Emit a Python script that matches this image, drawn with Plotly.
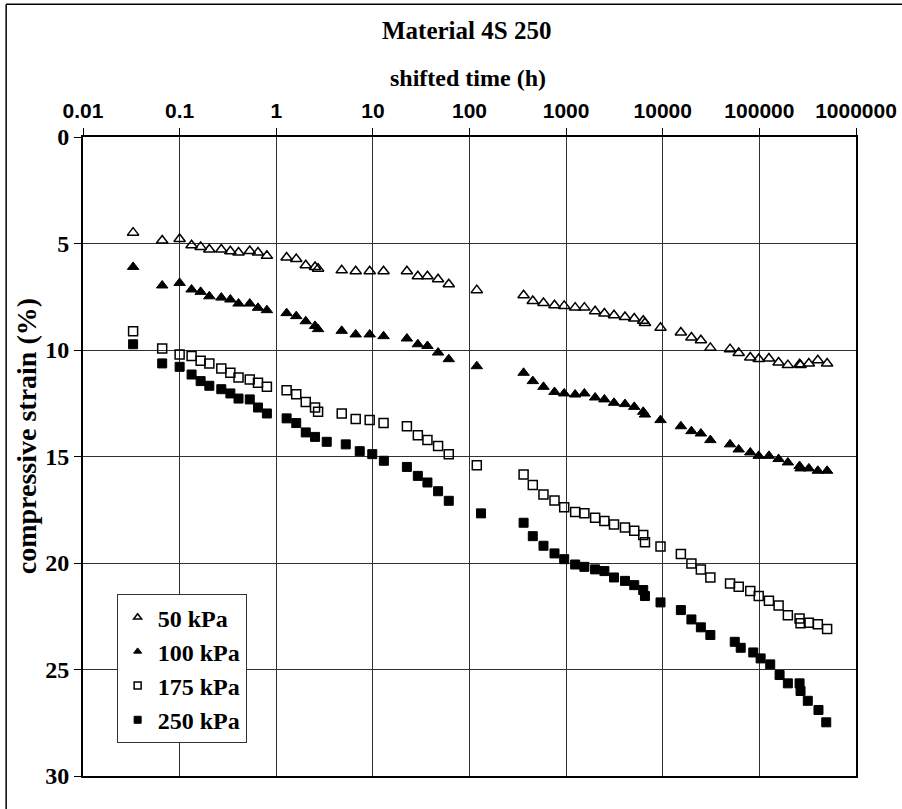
import plotly.graph_objects as go

# shifted time (h) for the 50, 100 and 175 kPa series
time_a = [0.033, 0.066, 0.1, 0.133, 0.165, 0.203, 0.27, 0.335, 0.407, 0.532,
          0.647, 0.80, 1.28, 1.61, 2.02, 2.52, 2.71, 4.76, 6.64, 9.27,
          12.9, 22.5, 29.2, 36.7, 47.3, 61.0, 119, 363, 452, 583,
          758, 955, 1240, 1545, 1995, 2490, 3130, 4065, 5070, 6280,
          6545, 9480, 15400, 19800, 24800, 31100, 49700, 61100, 80500, 98400,
          125600, 158100, 197200, 260600, 266700, 325100, 402700, 502300]
# shifted time (h) for the 250 kPa series
time_b = [0.033, 0.066, 0.1, 0.133, 0.165, 0.203, 0.27, 0.335, 0.407, 0.532,
          0.647, 0.80, 1.28, 1.61, 2.02, 2.52, 3.33, 5.24, 7.31, 9.86,
          13.0, 22.5, 29.2, 36.7, 47.3, 61.0, 131.5, 363, 452, 583,
          758, 955, 1240, 1545, 1995, 2490, 3130, 4065, 5070, 6280,
          6545, 9480, 15400, 19800, 24800, 31100, 55600, 64100, 86500, 103000,
          129500, 161900, 197200, 260600, 266700, 317000, 409000, 492000]

strain_50 = [4.49, 4.86, 4.79, 5.08, 5.16, 5.28, 5.28, 5.36, 5.42, 5.35,
             5.42, 5.58, 5.66, 5.73, 6.02, 6.10, 6.18, 6.26, 6.30, 6.30,
             6.30, 6.30, 6.54, 6.54, 6.68, 6.91, 7.19, 7.43, 7.70, 7.79,
             7.90, 7.93, 8.01, 8.01, 8.18, 8.29, 8.37, 8.45, 8.52, 8.63,
             8.73, 8.96, 9.18, 9.41, 9.54, 9.90, 9.96, 10.14, 10.35, 10.42,
             10.40, 10.59, 10.71, 10.67, 10.71, 10.63, 10.48, 10.63]
strain_100 = [6.10, 6.97, 6.85, 7.16, 7.27, 7.48, 7.54, 7.63, 7.82, 7.82,
              8.02, 8.13, 8.27, 8.41, 8.65, 8.87, 9.02, 9.10, 9.27, 9.27,
              9.35, 9.46, 9.73, 9.81, 10.12, 10.43, 10.76, 11.07, 11.46, 11.73,
              11.97, 12.04, 12.09, 12.04, 12.23, 12.32, 12.48, 12.54, 12.67, 12.90,
              13.03, 13.29, 13.58, 13.81, 13.92, 14.23, 14.43, 14.67, 14.81, 14.97,
              14.97, 15.12, 15.28, 15.45, 15.56, 15.56, 15.67, 15.67]
strain_175 = [9.12, 9.93, 10.21, 10.28, 10.51, 10.63, 10.87, 11.07, 11.29, 11.38,
              11.54, 11.73, 11.89, 12.08, 12.44, 12.70, 12.90, 12.98, 13.24, 13.29,
              13.43, 13.58, 14.00, 14.23, 14.51, 14.89, 15.41, 15.84, 16.34, 16.78,
              17.07, 17.38, 17.60, 17.67, 17.88, 18.03, 18.19, 18.33, 18.49, 18.69,
              19.02, 19.22, 19.58, 20.02, 20.30, 20.68, 20.96, 21.12, 21.32, 21.55,
              21.77, 21.99, 22.45, 22.60, 22.83, 22.81, 22.88, 23.10]
strain_250 = [9.73, 10.63, 10.79, 11.15, 11.46, 11.68, 11.84, 12.04, 12.28, 12.32,
              12.70, 12.98, 13.21, 13.43, 13.87, 14.08, 14.31, 14.43, 14.75, 14.89,
              15.20, 15.49, 15.91, 16.22, 16.63, 17.08, 17.67, 18.11, 18.74, 19.19,
              19.55, 19.82, 20.07, 20.18, 20.30, 20.38, 20.68, 20.84, 21.04, 21.27,
              21.55, 21.85, 22.21, 22.65, 23.02, 23.38, 23.70, 23.98, 24.20, 24.48,
              24.76, 25.26, 25.65, 25.65, 26.01, 26.47, 26.90, 27.48]

series_names = ["50 kPa", "100 kPa", "175 kPa", "250 kPa"]
x_tick_vals = [0.01, 0.1, 1, 10, 100, 1000, 10000, 100000, 1000000]
x_tick_text = ["0.01", "0.1", "1", "10", "100", "1000", "10000", "100000", "1000000"]
y_tick_vals = [0, 5, 10, 15, 20, 25, 30]

SERIF = "Liberation Serif, Times New Roman, serif"
SANS = "Liberation Sans, Arial, sans-serif"

styles = [
    dict(symbol="triangle-up-open", color="black", size=10, line=dict(color="black", width=1.5)),
    dict(symbol="triangle-up", color="black", size=10, line=dict(color="black", width=1)),
    dict(symbol="square-open", color="black", size=9, line=dict(color="black", width=1.5)),
    dict(symbol="square", color="black", size=9, line=dict(color="black", width=1)),
]
xs = [time_a, time_a, time_a, time_b]
ys = [strain_50, strain_100, strain_175, strain_250]

fig = go.Figure()
for name, x, y, st in zip(series_names, xs, ys, styles):
    fig.add_trace(go.Scatter(x=x, y=y, mode="markers", name=name, showlegend=False,
                             marker=st, cliponaxis=False))
# legend entries (smaller markers as in the original)
for i, (name, st) in enumerate(zip(series_names, styles)):
    leg = dict(st)
    leg["size"] = 7
    fig.add_trace(go.Scatter(x=[None], y=[None], mode="markers", name=name,
                             marker=leg, legendgroup=f"g{i}"))

grid_col = "#303030"
fig.update_xaxes(type="log", side="top", range=[-2, 6],
                 tickvals=x_tick_vals, ticktext=x_tick_text,
                 tickfont=dict(family=SANS, size=21, color="black", weight="bold"),
                 ticks="outside", ticklen=7, tickcolor="black", tickwidth=1,
                 ticklabelstandoff=2,
                 showgrid=True, gridcolor=grid_col, gridwidth=1,
                 showline=True, linecolor="black", linewidth=2, mirror=True,
                 zeroline=False)
fig.update_yaxes(range=[30, 0], tickvals=y_tick_vals,
                 tickfont=dict(family=SERIF, size=24, color="black", weight="bold"),
                 ticks="outside", ticklen=7, tickcolor="black", tickwidth=1,
                 showgrid=True, gridcolor=grid_col, gridwidth=1,
                 showline=True, linecolor="black", linewidth=2, mirror=True,
                 zeroline=False)

fig.add_annotation(text="Material 4S 250", xref="paper", yref="paper",
                   x=0.4955, y=1.167, xanchor="center", yanchor="middle", showarrow=False,
                   font=dict(family=SERIF, size=25, color="black", weight="bold"))
fig.add_annotation(text="shifted time (h)", xref="paper", yref="paper",
                   x=0.4975, y=1.093, xanchor="center", yanchor="middle", showarrow=False,
                   font=dict(family=SERIF, size=24, color="black", weight="bold"))
fig.add_annotation(text="compressive strain (%)", xref="paper", yref="paper",
                   x=-0.0735, y=0.532, xanchor="center", yanchor="middle", showarrow=False,
                   textangle=-90,
                   font=dict(family=SERIF, size=28, color="black", weight="bold"))

# outer chart frame: left and top edges
fig.add_shape(type="line", xref="paper", yref="paper", x0=-0.0994, y0=-0.15, x1=-0.0994, y1=1.2076,
              line=dict(color="black", width=1.5), layer="below")
fig.add_shape(type="line", xref="paper", yref="paper", x0=-0.0994, y0=1.2076, x1=1.25, y1=1.2076,
              line=dict(color="black", width=1.5), layer="below")

fig.update_layout(
    width=909, height=809, autosize=False,
    margin=dict(l=83, r=51, t=137, b=33),
    paper_bgcolor="white", plot_bgcolor="white",
    legend=dict(x=0.0435, y=0.2847, xanchor="left", yanchor="top",
                bgcolor="white", bordercolor="#333", borderwidth=1,
                font=dict(family=SERIF, size=24, color="black", weight="bold"),
                tracegroupgap=0, itemwidth=30),
)

fig.write_html("out.html",
               config={"responsive": False, "displayModeBar": False},
               post_script="document.documentElement.style.overflow='hidden';document.body.style.margin='0';document.body.style.overflow='hidden';")
